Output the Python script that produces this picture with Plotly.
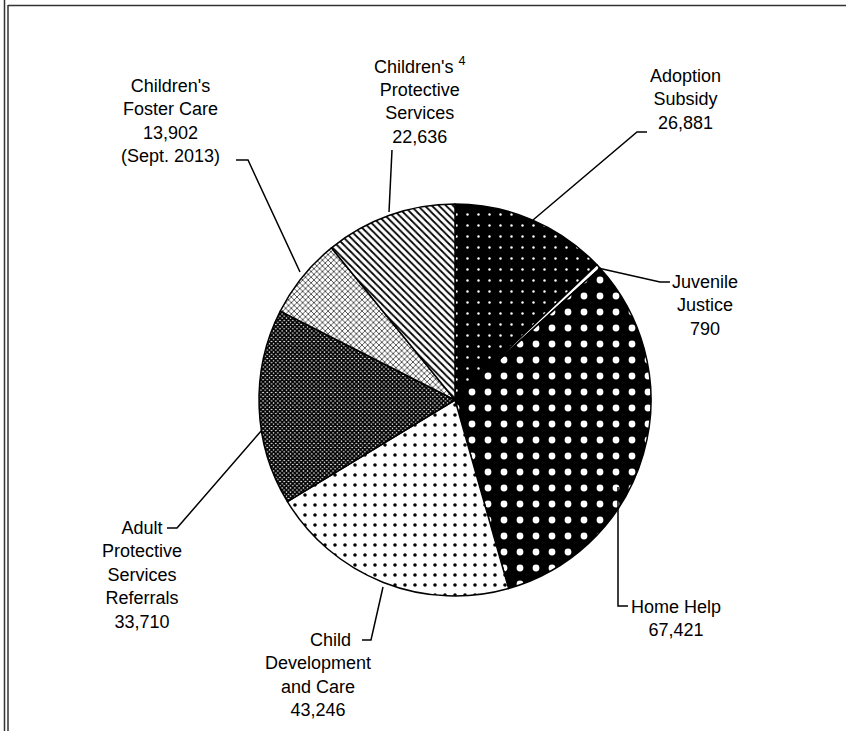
import plotly.graph_objects as go

W, H = 846, 731

# data
categories = ["Adoption Subsidy", "Juvenile Justice", "Home Help", "Child Development and Care",
              "Adult Protective Services Referrals", "Children's Foster Care", "Children's Protective Services"]
values = [26881, 790, 67421, 43246, 33710, 13902, 22636]
label_text = [
    "Adoption<br>Subsidy<br>26,881",
    "Juvenile<br>Justice<br>790",
    "Home Help<br>67,421",
    "&nbsp;&nbsp;&nbsp;&nbsp;&nbsp;Child<br>Development<br>and Care<br>43,246",
    "Adult<br>Protective<br>Services<br>Referrals<br>33,710",
    "Children's<br>Foster Care<br>13,902<br>(Sept. 2013)",
    "Children's <sup>4</sup><br>Protective<br>Services<br>22,636",
]

# pattern per slice
shapes_pat = [".", "", ".", ".", "x", "x", "\\"]
fg = ["white", "black", "white", "black", "black", "black", "black"]
bg = ["black", "white", "black", "white", "white", "white", "white"]
pat_size = [11, 8, 16, 10, 3, 4, 5]
solidity = [0.04, 0.3, 0.14, 0.1, 0.8, 0.3, 0.35]


def px(x, y):
    return x / W, 1 - y / H


cx, cy, r = 455, 400, 196

fig = go.Figure(go.Pie(
    labels=categories,
    values=values,
    sort=False,
    direction="clockwise",
    rotation=0,
    textinfo="none",
    hoverinfo="label+value",
    showlegend=False,
    marker=dict(
        colors=bg,
        line=dict(color="black", width=1.5),
        pattern=dict(shape=shapes_pat, fgcolor=fg, bgcolor=bg, size=pat_size, solidity=solidity),
    ),
    domain=dict(x=[(cx - r) / W, (cx + r) / W], y=[1 - (cy + r) / H, 1 - (cy - r) / H]),
))

# label positions (pixel centres of text blocks)
label_pos = [(685, 99), (705, 305), (676, 618), (318, 675), (142, 575), (170, 121), (420, 101)]
annotations = []
for txt, (x, y) in zip(label_text, label_pos):
    xp, yp = px(x, y)
    annotations.append(dict(text=txt, x=xp, y=yp, xref="paper", yref="paper", showarrow=False,
                            xanchor="center", yanchor="middle", align="center",
                            font=dict(family="Liberation Sans, Arial", size=18, color="black")))

# leader lines (pixel paths)
leaders = [
    [(533, 220), (637, 132), (647, 132)],
    [(598, 268), (660, 282), (670, 282)],
    [(618, 487), (618, 606), (628, 606)],
    [(383, 587), (371, 640), (362, 640)],
    [(262, 430), (177, 528), (167, 528)],
    [(300, 272), (248, 160), (236, 160)],
    [(389, 212), (392, 150)],
]
shapes = []
for pts in leaders:
    path = "M " + " L ".join("%f,%f" % px(x, y) for x, y in pts)
    shapes.append(dict(type="path", path=path, xref="paper", yref="paper",
                       line=dict(color="black", width=1.5)))

# frame
frame = [((4.5, 0), (4.5, H)), ((8, 5), (8, H)), ((8, 5.5), (W, 5.5))]
for (x0, y0), (x1, y1) in frame:
    a, b = px(x0, y0)
    c, d = px(x1, y1)
    shapes.append(dict(type="line", x0=a, y0=b, x1=c, y1=d, xref="paper", yref="paper",
                       line=dict(color="#333", width=1.5)))

fig.update_layout(
    width=W, height=H,
    margin=dict(l=0, r=0, t=0, b=0),
    paper_bgcolor="white",
    plot_bgcolor="white",
    annotations=annotations,
    shapes=shapes,
)

# drop the default body margin so the figure sits at the window origin
fig.write_html("out.html", config={"displayModeBar": False},
               post_script="document.body.style.margin='0';")
